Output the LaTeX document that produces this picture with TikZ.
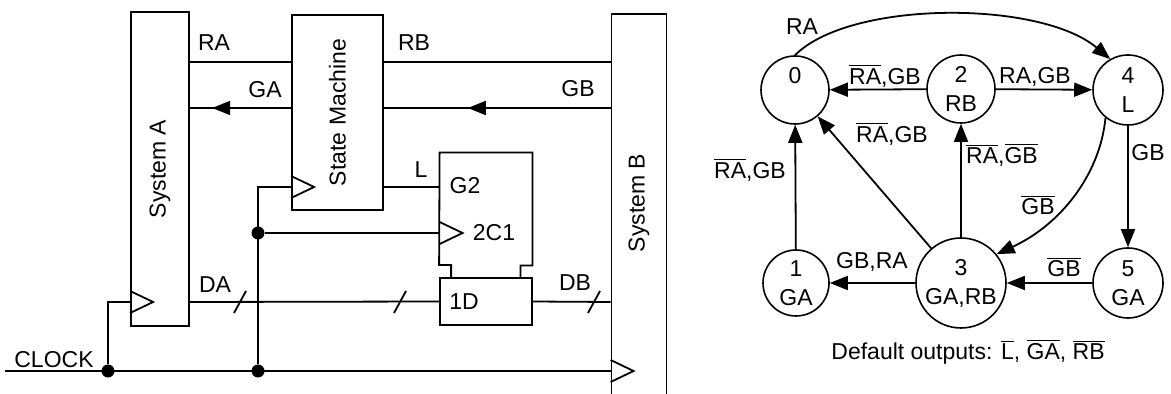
\documentclass[tikz,border=0pt]{standalone}
\usepackage{fontspec}
\setmainfont{Liberation Sans}
\usetikzlibrary{arrows.meta,decorations.markings}

\tikzset{
  wire/.style={line width=0.9pt},
  box/.style={draw, rectangle, line width=0.9pt, inner sep=0pt},
  dot/.style={circle, fill, inner sep=0pt, minimum size=6.5pt},
  state/.style={draw, circle, line width=0.8pt, inner sep=0pt, align=center, minimum size=34pt},
  lbl/.style={inner sep=0pt},
  tip/.style={-{Triangle[length=9pt,width=7pt]}},
  midtip/.style={postaction={decorate}, decoration={markings,
      mark=at position #1 with {\arrow{Triangle[length=9pt,width=7pt]}}}},
}

% clock input triangle on a box edge
\newcommand{\clktri}[1]{\draw[wire] (#1) ++(0,-11) -- ++(23,11) -- ++(-23,11);}
% bus slash on a wire
\newcommand{\busmark}[1]{\draw[wire] (#1) ++(-6,11) -- ++(12,-22);}

\begin{document}
\begin{tikzpicture}[x=0.5pt, y=-0.5pt, font=\fontsize{11.5pt}{14.5pt}\selectfont]
\useasboundingbox (0,0) rectangle (1171,394);

% ---------- circuit ----------
\coordinate (rRA) at (0,62);
\coordinate (rGA) at (0,108);
\coordinate (rL) at (0,187);
\coordinate (rC) at (0,233);
\coordinate (rD) at (0,302);
\coordinate (clkIn) at (5,371);

\node[box, minimum width=29pt, minimum height=157pt] (sysA) at (160,169) {};
\node[rotate=90] (sysAtxt) at (sysA.center) {System A};

\node[box, minimum width=45.5pt, minimum height=97.5pt] (sm) at (337.5,112.5) {};
\node[rotate=90] (smtxt) at (sm.center) {State Machine};

\node[box, minimum width=27.5pt, minimum height=203pt] (sysB) at (639,217) {};
\node[rotate=90] (sysBtxt) at (639,203) {System B};

% latch
\node[box, minimum width=46pt, minimum height=23.5pt] (dbox) at (486,301.5) {};
\node[inner sep=0pt, minimum width=46pt, minimum height=56.5pt] (ctl) at (486,209.5) {};
\draw[wire] (dbox.north west) ++(12,0) -- ++(0,-12) -- ++(-12,0) -- (ctl.north west)
  -- (ctl.north east) -- ++(0,113) -- ++(-12,0) -- ++(0,12);
\node[lbl] (g2) at (465,186) {G2};
\node[lbl] (c1) at (494,233) {2C1};
\node[lbl] (d1) at (464,302) {1D};

% handshake wires
\draw[wire] (sysA.east |- rRA) -- (sm.west |- rRA);
\draw[wire, midtip=0.78] (sm.west |- rGA) -- (sysA.east |- rGA);
\draw[wire] (sm.east |- rRA) -- (sysB.west |- rRA);
\draw[wire, midtip=0.63] (sysB.west |- rGA) -- (sm.east |- rGA);
\draw[wire] (sm.east |- rL) -- (ctl.west |- rL);
\node[lbl] (raL) at (214,43) {RA};
\node[lbl] (gaL) at (265,90) {GA};
\node[lbl] (rbL) at (414,43) {RB};
\node[lbl] (gbL) at (578,89) {GB};
\node[lbl] (lL) at (421,170) {L};

% data
\draw[wire] (sysA.east |- rD) -- (dbox.west);
\draw[wire] (dbox.east) -- (sysB.west |- rD);
\busmark{240,302}
\busmark{400,302}
\busmark{594,302}
\node[lbl] (daL) at (215,285) {DA};
\node[lbl] (dbL) at (575,283) {DB};

% clock
\node[dot] (dA) at (108,371) {};
\node[dot] (dB) at (258,371) {};
\node[dot] (dC) at (258,233) {};
\draw[wire] (clkIn) -- (sysB.west |- clkIn);
\draw[wire] (dA) |- (sysA.west |- rD);
\draw[wire] (dB) |- (sm.west |- rL);
\draw[wire] (dC) -- (ctl.west |- dC);
\clktri{sysA.west |- rD}
\clktri{sm.west |- rL}
\clktri{ctl.west |- rC}
\clktri{sysB.west |- clkIn}
\node[lbl] (clkL) at (54,360) {CLOCK};

% ---------- state diagram ----------
\node[state] (s0) at (795,90) {0\\\phantom{0}};
\node[state] (s2) at (961,89) {2\\RB};
\node[state, minimum size=35pt] (s4) at (1128,90) {4\\L};
\node[state, minimum size=33pt] (s1) at (796,283) {1\\GA};
\node[state, minimum size=45pt] (s3) at (961,283) {3\\GA,RB};
\node[state, minimum size=35pt] (s5) at (1128,283) {5\\GA};

\draw[wire, tip] (s0.north) .. controls (850,0) and (1040,0) .. (s4.120);
\draw[wire, tip] (s2) -- (s0);
\draw[wire, tip] (s2) -- (s4);
\draw[wire, tip] (s3) -- (s0);
\draw[wire, tip] (s3) -- (s2);
\draw[wire, tip] (s1) -- (s0);
\draw[wire, tip] (s4) -- (s5);
\draw[wire, tip] (s4.231) .. controls (1100,175) and (1060,225) .. (s3.39);
\draw[wire, tip] (s3) -- (s1);
\draw[wire, tip] (s5) -- (s3);

\node[lbl] (e04) at (802,27) {RA};
\node[lbl] (e20) at (885,76) {$\overline{\mbox{RA}}$,GB};
\node[lbl] (e24) at (1035,77) {RA,GB};
\node[lbl] (e30) at (892,134) {$\overline{\mbox{RA}}$,GB};
\node[lbl] (e32) at (1002,155) {$\overline{\mbox{RA}}$,$\overline{\mbox{GB}}$};
\node[lbl] (e10) at (750,170) {$\overline{\mbox{RA}}$,GB};
\node[lbl] (e45) at (1148,153) {GB};
\node[lbl] (e43) at (1038,205) {$\overline{\mbox{GB}}$};
\node[lbl] (e31) at (872,262) {GB,RA};
\node[lbl] (e53) at (1064,267) {$\overline{\mbox{GB}}$};
\node[lbl] (dflt) at (968,352) {Default outputs: $\overline{\mbox{L}}$, $\overline{\mbox{GA}}$, $\overline{\mbox{RB}}$};

\end{tikzpicture}
\end{document}
